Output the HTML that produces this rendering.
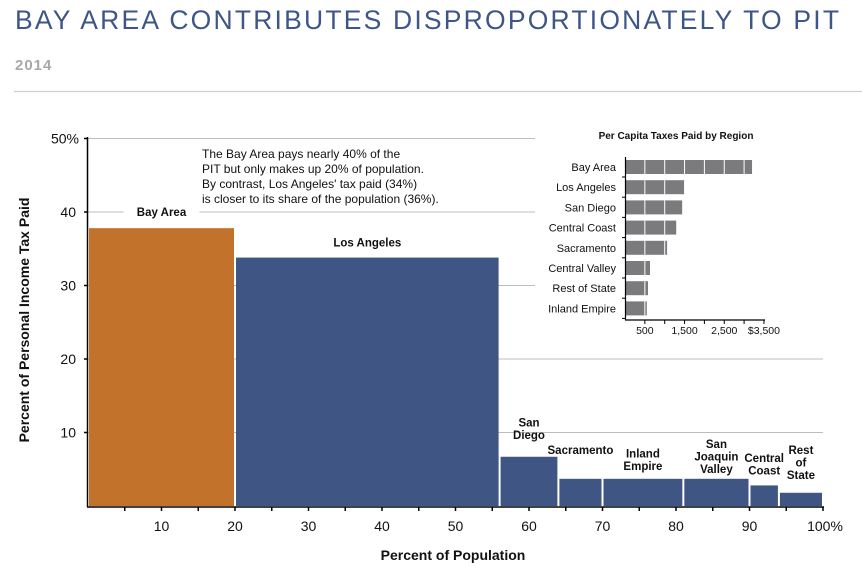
<!DOCTYPE html>
<html><head><meta charset="utf-8"><style>
body{margin:0;background:#fff;width:862px;height:574px;overflow:hidden;font-family:"Liberation Sans",Arial,sans-serif}
svg text{font-family:"Liberation Sans",Arial,sans-serif}
</style></head><body>
<svg id="c" width="862" height="574" xmlns="http://www.w3.org/2000/svg">
<text x="15" y="29" font-size="26.5" fill="#3d5688" letter-spacing="2.2">BAY AREA CONTRIBUTES DISPROPORTIONATELY TO PIT</text>
<text x="15" y="70" font-size="15" font-weight="bold" fill="#a8a8a8" letter-spacing="1">2014</text>
<line x1="14" y1="91.5" x2="862" y2="91.5" stroke="#cfcfcf" stroke-width="1.2"/>
<g id="grid"></g><g id="bars"></g><g id="axes"></g><g id="inset"></g>
<text x="202" y="158" font-size="12" fill="#111"><tspan x="202">The Bay Area pays nearly 40% of the</tspan><tspan x="202" dy="15">PIT but only makes up 20% of population.</tspan><tspan x="202" dy="15">By contrast, Los Angeles' tax paid (34%)</tspan><tspan x="202" dy="15">is closer to its share of the population (36%).</tspan></text>
<text x="453" y="560" font-size="14" font-weight="bold" text-anchor="middle" fill="#111">Percent of Population</text>
<text transform="translate(29,320) rotate(-90)" font-size="14" font-weight="bold" text-anchor="middle" fill="#111">Percent of Personal Income Tax Paid</text>
</svg>
<script>
const regions=["Bay Area","Los Angeles","San Diego","Sacramento","Inland Empire","San Joaquin Valley","Central Coast","Rest of State"];
const popStart=[0,20,56,64,70,81,90,94];
const popEnd=[20,56,64,70,81,90,94,100];
const taxShare=[37.8,33.8,6.7,3.7,3.7,3.7,2.8,1.8];
const yTicks=[10,20,30,40,50];
const xTicks=[10,20,30,40,50,60,70,80,90,100];
const insetRegions=["Bay Area","Los Angeles","San Diego","Central Coast","Sacramento","Central Valley","Rest of State","Inland Empire"];
const perCapita=[3200,1510,1440,1290,1060,630,580,550];
const insetTicks=[500,1500,2500,3500];
const NS="http://www.w3.org/2000/svg";
function el(p,t,a,txt){const e=document.createElementNS(NS,t);for(const k in a)e.setAttribute(k,a[k]);if(txt!==undefined)e.textContent=txt;document.getElementById(p).appendChild(e);return e;}
const X=v=>88+v*7.35, Y=v=>506-v*7.35;
yTicks.forEach(t=>{const g=el('grid','line',{x1:88,x2:823,y1:Y(t),y2:Y(t),stroke:'#bdbdbd','stroke-width':1});

});
const labelLines=[["Bay Area"],["Los Angeles"],["San","Diego"],["Sacramento"],["Inland","Empire"],["San","Joaquin","Valley"],["Central","Coast"],["Rest","of","State"]];
const labelGap=[12,11,18,25,9,6,11,14];
const labelDx=[0,0,0,0,0,0,0,0];
regions.forEach((r,i)=>{const x1=X(popStart[i])+1,x2=X(popEnd[i])-1;
const b=el('bars','rect',{x:x1,y:Y(taxShare[i]),width:x2-x1,height:506-Y(taxShare[i]),fill:i==0?'#c2722a':'#3f5583'});


const cx=(X(popStart[i])+X(popEnd[i]))/2+labelDx[i];const L=labelLines[i];const base=Y(taxShare[i])-labelGap[i]-(L.length-1)*12.5;
if(i<2){el('bars','rect',{x:cx-38,y:Y(taxShare[i])-labelGap[i]-12,width:76,height:16,fill:'#fff'});}
L.forEach((s,j)=>{const t=el('bars','text',{x:cx,y:base+j*12.5,'font-size':11.5,'font-weight':'bold','text-anchor':'middle',fill:'#111'},s);

});});
el('axes','line',{x1:87.5,x2:87.5,y1:137,y2:507,stroke:'#000','stroke-width':1.5});
el('axes','line',{x1:87,x2:824,y1:507,y2:507,stroke:'#000','stroke-width':1.5});
yTicks.forEach(t=>{el('axes','line',{x1:84,x2:88,y1:Y(t),y2:Y(t),stroke:'#000','stroke-width':1.5});
const l=el('axes','text',{x:t==50?79:76,y:Y(t)+5,'font-size':14,'text-anchor':'end',fill:'#111'},t==50?'50%':String(t));

});
for(let v=5;v<=100;v+=5)el('axes','line',{x1:X(v),x2:X(v),y1:507,y2:511,stroke:'#000','stroke-width':1.5});
xTicks.forEach(t=>{const l=el('axes','text',{x:t==100?X(t)+2:X(t),y:531,'font-size':14,'text-anchor':'middle',fill:'#111'},t==100?'100%':String(t));

});
el('inset','rect',{x:535,y:122,width:290,height:222,fill:'#fff'});
const IX=v=>625+v*0.0397, IY=i=>167+i*20.2;
const it=el('inset','text',{x:676,y:139,'font-size':10,'font-weight':'bold','text-anchor':'middle',fill:'#111'},'Per Capita Taxes Paid by Region');


insetRegions.forEach((r,i)=>{const b=el('inset','rect',{x:626,y:IY(i)-7,width:IX(perCapita[i])-626,height:14,fill:'#7b7b7d'});


for(let v=500;v<perCapita[i];v+=500)el('inset','line',{x1:IX(v),x2:IX(v),y1:IY(i)-7,y2:IY(i)+7,stroke:'#fff','stroke-width':1});
const l=el('inset','text',{x:616,y:IY(i)+4,'font-size':11,'text-anchor':'end',fill:'#111'},r);


el('inset','line',{x1:622,x2:626,y1:IY(i)+10,y2:IY(i)+10,stroke:'#000'});});
el('inset','line',{x1:625.5,x2:625.5,y1:157,y2:320,stroke:'#000','stroke-width':1.2});
el('inset','line',{x1:625,x2:765,y1:320,y2:320,stroke:'#000','stroke-width':1.2});
for(let v=500;v<=3500;v+=500)el('inset','line',{x1:IX(v),x2:IX(v),y1:320,y2:324,stroke:'#000'});
insetTicks.forEach(t=>{const l=el('inset','text',{x:IX(t),y:334,'font-size':10.5,'text-anchor':'middle',fill:'#111'},t==3500?'$3,500':t.toLocaleString('en-US'));

});
</script>
</body></html>
